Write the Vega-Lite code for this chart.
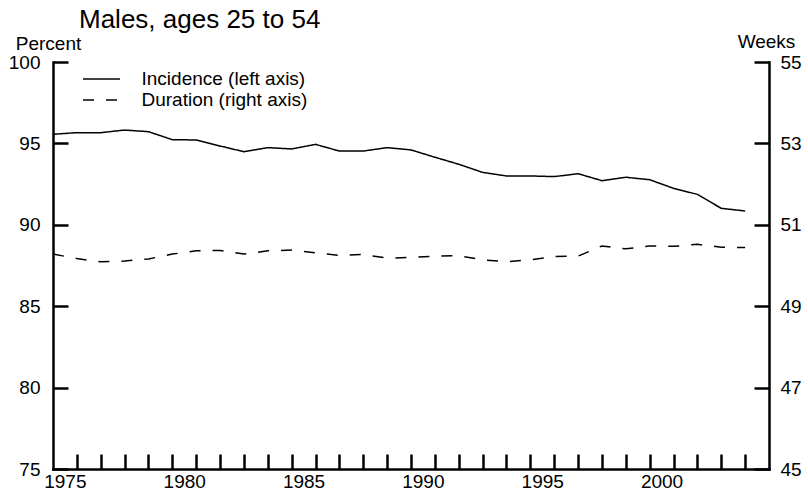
{
  "$schema": "https://vega.github.io/schema/vega-lite/v6.json",
  "width": 716,
  "height": 407,
  "autosize": "none",
  "padding": {"left": 53, "top": 62, "right": 39, "bottom": 25},
  "background": "white",
  "config": {
    "font": "Liberation Sans",
    "view": {"stroke": null},
    "axis": {"grid": false, "domainColor": "black", "tickColor": "black", "domainWidth": 2.5, "tickWidth": 2.5, "labelColor": "black", "titleColor": "black", "labelFont": "Liberation Sans", "titleFont": "Liberation Sans", "labelFontSize": 19, "titleFontSize": 19, "titleFontWeight": "normal", "domainCap": "square"}
  },
  "title": {"text": "Males, ages 25 to 54", "fontSize": 26, "fontWeight": "normal", "font": "Liberation Sans", "anchor": "start", "frame": "group", "dx": 26, "dy": 5, "color": "black"},
  "data": {"values": [
    {"year": 1975, "inc": 95.56, "dur": 50.28},
    {"year": 1976, "inc": 95.66, "dur": 50.17},
    {"year": 1977, "inc": 95.66, "dur": 50.09},
    {"year": 1978, "inc": 95.82, "dur": 50.11},
    {"year": 1979, "inc": 95.72, "dur": 50.16},
    {"year": 1980, "inc": 95.23, "dur": 50.28},
    {"year": 1981, "inc": 95.21, "dur": 50.36},
    {"year": 1982, "inc": 94.84, "dur": 50.37},
    {"year": 1983, "inc": 94.49, "dur": 50.28},
    {"year": 1984, "inc": 94.74, "dur": 50.36},
    {"year": 1985, "inc": 94.66, "dur": 50.38},
    {"year": 1986, "inc": 94.94, "dur": 50.31},
    {"year": 1987, "inc": 94.53, "dur": 50.25},
    {"year": 1988, "inc": 94.53, "dur": 50.27},
    {"year": 1989, "inc": 94.74, "dur": 50.18},
    {"year": 1990, "inc": 94.6, "dur": 50.2},
    {"year": 1991, "inc": 94.15, "dur": 50.23},
    {"year": 1992, "inc": 93.72, "dur": 50.24},
    {"year": 1993, "inc": 93.22, "dur": 50.14},
    {"year": 1994, "inc": 93.0, "dur": 50.09},
    {"year": 1995, "inc": 93.0, "dur": 50.14},
    {"year": 1996, "inc": 92.96, "dur": 50.22},
    {"year": 1997, "inc": 93.14, "dur": 50.23},
    {"year": 1998, "inc": 92.71, "dur": 50.48},
    {"year": 1999, "inc": 92.92, "dur": 50.41},
    {"year": 2000, "inc": 92.77, "dur": 50.48},
    {"year": 2001, "inc": 92.24, "dur": 50.47},
    {"year": 2002, "inc": 91.87, "dur": 50.52},
    {"year": 2003, "inc": 91.01, "dur": 50.45},
    {"year": 2004, "inc": 90.85, "dur": 50.44}
  ]},
  "encoding": {
    "x": {"field": "year", "type": "quantitative",
      "scale": {"domain": [1975, 2005], "nice": false, "zero": false},
      "axis": {"title": null, "values": [1976,1977,1978,1979,1980,1981,1982,1983,1984,1985,1986,1987,1988,1989,1990,1991,1992,1993,1994,1995,1996,1997,1998,1999,2000,2001,2002,2003,2004],
        "labelExpr": "(datum.value - 1) % 5 == 0 ? '' + (datum.value - 1) : ''",
        "labelOffset": -12, "labelOverlap": false, "labelFlush": false, "labelBound": false,
        "tickSize": -15, "labelPadding": 18}
    }
  },
  "layer": [
    {
      "mark": {"type": "line", "color": "black", "strokeWidth": 1.5},
      "transform": [{"calculate": "'Incidence (left axis)'", "as": "series"}],
      "encoding": {
        "y": {"field": "inc", "type": "quantitative",
          "scale": {"domain": [75, 100], "nice": false, "zero": false},
          "axis": {"orient": "left", "values": [75, 80, 85, 90, 95, 100], "tickSize": -15, "labelPadding": 28,
            "title": "Percent", "titleAngle": 0, "titleAlign": "center", "titleBaseline": "alphabetic", "titleX": -5, "titleY": -13}},
        "strokeDash": {"field": "series", "type": "nominal",
          "scale": {"domain": ["Incidence (left axis)", "Duration (right axis)"], "range": [[1, 0], [11, 12]]},
          "legend": {"title": null, "orient": "none", "legendX": 38.5, "legendY": 7, "symbolType": "M-2,0H2", "symbolSize": 342, "symbolStrokeWidth": 1.5, "symbolStrokeColor": "black", "symbolFillColor": "transparent", "labelFontSize": 19, "labelFont": "Liberation Sans", "labelColor": "black", "labelOffset": 30, "labelLimit": 400, "rowPadding": 1, "padding": 0}}
      }
    },
    {
      "mark": {"type": "line", "color": "black", "strokeWidth": 1.5},
      "transform": [{"calculate": "'Duration (right axis)'", "as": "series"}],
      "encoding": {
        "y": {"field": "dur", "type": "quantitative",
          "scale": {"domain": [45, 55], "nice": false, "zero": false},
          "axis": {"orient": "right", "values": [45, 47, 49, 51, 53, 55], "tickSize": -15, "labelPadding": 26,
            "title": "Weeks", "titleAngle": 0, "titleAlign": "center", "titleBaseline": "alphabetic", "titleX": -3, "titleY": -15}},
        "strokeDash": {"field": "series", "type": "nominal"}
      }
    }
  ],
  "resolve": {"scale": {"y": "independent"}}
}
